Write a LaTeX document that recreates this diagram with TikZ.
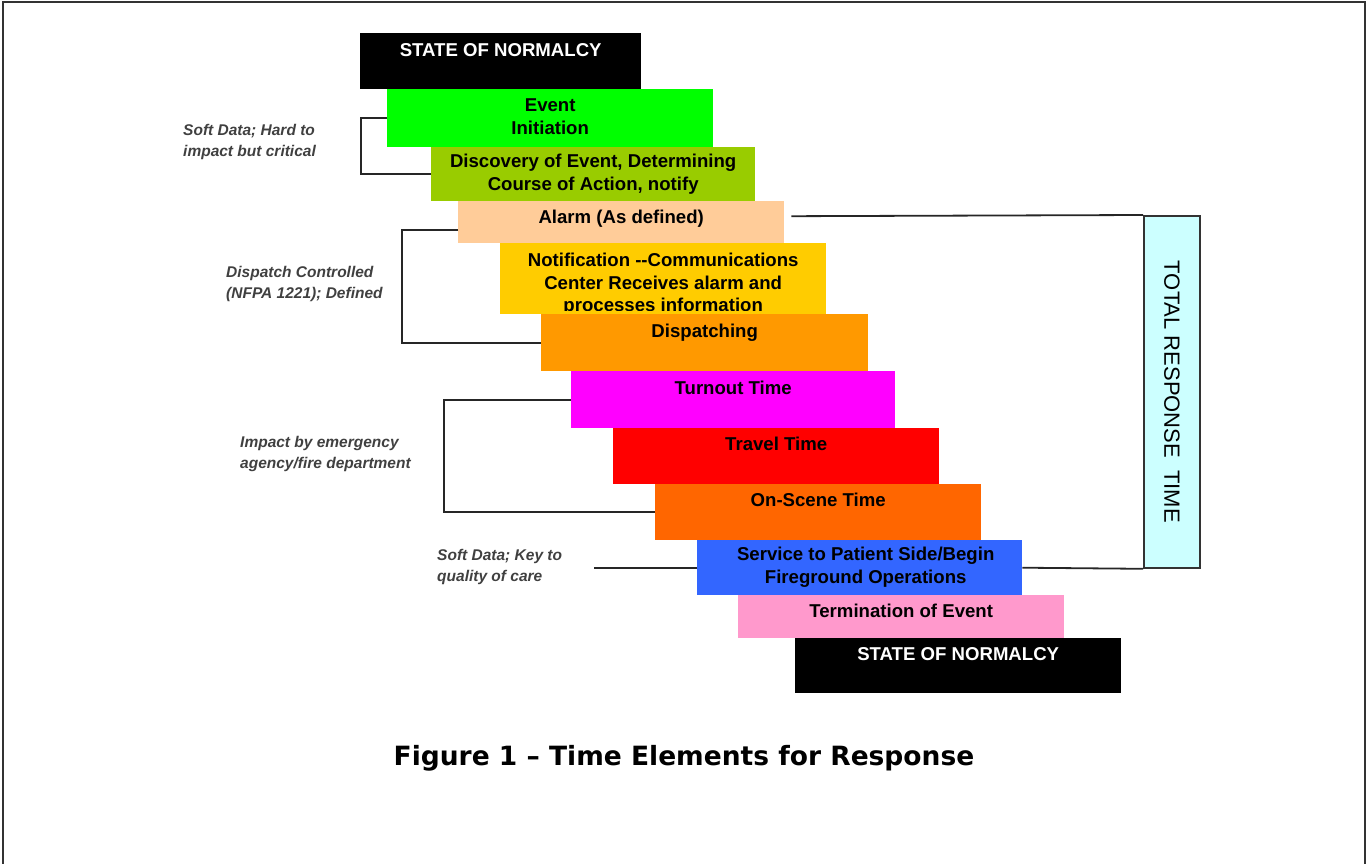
\documentclass[tikz,border=0pt]{standalone}
\usepackage{fontspec}
\setmainfont{Liberation Sans}
\newfontfamily\capfont{DejaVu Sans}
\definecolor{cEvent}{HTML}{00FF00}
\definecolor{cDisc}{HTML}{99CC00}
\definecolor{cAlarm}{HTML}{FFCC99}
\definecolor{cNotif}{HTML}{FFCC00}
\definecolor{cDisp}{HTML}{FF9900}
\definecolor{cTurn}{HTML}{FF00FF}
\definecolor{cTravel}{HTML}{FF0000}
\definecolor{cScene}{HTML}{FF6600}
\definecolor{cServ}{HTML}{3366FF}
\definecolor{cTerm}{HTML}{FF99CC}
\definecolor{cTotal}{HTML}{CCFFFF}
\begin{document}
\begin{tikzpicture}[x=1pt,y=-1pt,
  box/.style={draw=none, inner sep=0pt, anchor=north west},
  boxtext/.style={anchor=north, inner sep=0pt, align=center, font=\bfseries\fontsize{18.6}{22.5}\selectfont},
  side/.style={anchor=north west, inner sep=0pt, align=left, text=black!75, font=\bfseries\itshape\fontsize{15.5}{21}\selectfont},
  conn/.style={line width=1.8pt, draw=black!85}]
\useasboundingbox (0,0) rectangle (1367,864);
% page frame
\draw[line width=2pt, black!80] (3,864) -- (3,2) -- (1365,2) -- (1365,864);

% boxes
\node[box, fill=black, minimum width=281pt, minimum height=56pt] (n0) at (360,33) {};
\node[boxtext, text=white] at ([yshift=-8pt]n0.north) {\strut STATE OF NORMALCY};

\node[box, fill=cEvent, minimum width=326pt, minimum height=58pt] (b1) at (387,89) {};
\node[boxtext] at ([yshift=-7pt]b1.north) {\strut Event\\Initiation};

\node[box, fill=cDisc, minimum width=324pt, minimum height=54pt] (b2) at (431,147) {};
\node[boxtext] at ([yshift=-5pt]b2.north) {\strut Discovery of Event, Determining\\Course of Action, notify};

\node[box, fill=cAlarm, minimum width=326pt, minimum height=42pt] (b3) at (458,201) {};
\node[boxtext] at ([yshift=-7pt]b3.north) {\strut Alarm (As defined)};

\node[box, fill=cNotif, minimum width=326pt, minimum height=71pt] (b4) at (500,243) {};
\begin{scope}
\clip (b4.north west) rectangle ([yshift=3.5pt]b4.south east);
\node[boxtext] at ([yshift=-8pt]b4.north) {\strut Notification -{}-Communications\\Center Receives alarm and\\processes information};
\end{scope}

\node[box, fill=cDisp, minimum width=327pt, minimum height=57pt] (b5) at (541,314) {};
\node[boxtext] at ([yshift=-8pt]b5.north) {\strut Dispatching};

\node[box, fill=cTurn, minimum width=324pt, minimum height=57pt] (b6) at (571,371) {};
\node[boxtext] at ([yshift=-8pt]b6.north) {\strut Turnout Time};

\node[box, fill=cTravel, minimum width=326pt, minimum height=56pt] (b7) at (613,428) {};
\node[boxtext] at ([yshift=-7pt]b7.north) {\strut Travel Time};

\node[box, fill=cScene, minimum width=326pt, minimum height=56pt] (b8) at (655,484) {};
\node[boxtext] at ([yshift=-7pt]b8.north) {\strut On-Scene Time};

\node[box, fill=cServ, minimum width=325pt, minimum height=55pt] (b9) at (697,540) {};
\node[boxtext] at ([xshift=6pt,yshift=-5pt]b9.north) {\strut Service to Patient Side/Begin\\Fireground Operations};

\node[box, fill=cTerm, minimum width=326pt, minimum height=43pt] (b10) at (738,595) {};
\node[boxtext] at ([yshift=-7pt]b10.north) {\strut Termination of Event};

\node[box, fill=black, minimum width=326pt, minimum height=55pt] (n1) at (795,638) {};
\node[boxtext, text=white] at ([yshift=-7pt]n1.north) {\strut STATE OF NORMALCY};

% total response time
\node[box, fill=cTotal, draw=black!80, line width=1.8pt, minimum width=56pt, minimum height=352pt] (tr) at (1143,215) {};
\node[rotate=-90, inner sep=0pt, font=\fontsize{22}{26}\selectfont] at (tr.center) {TOTAL RESPONSE~~TIME};

% brackets
\draw[conn] (b1.west) -- ++(-26,0) |- (b2.west);
\draw[conn] ([yshift=-8pt]b3.west) -- ++(-56,0) |- (b5.west);
\draw[conn] (b6.west) -- ++(-127,0) |- (b8.west);
\draw[conn] (b9.west) -- ++(-103,0);
\draw[conn] ([xshift=7pt,yshift=6pt]b3.east) -- (tr.north west);
\draw[conn] (b9.east) -- (tr.south west);

% side labels
\node[side] (s1) at (183,120.8) {\strut Soft Data; Hard to\\impact but critical};
\node[side] (s2) at (226,262.8) {\strut Dispatch Controlled\\(NFPA 1221); Defined};
\node[side] (s3) at (240,432.8) {\strut Impact by emergency\\agency/fire department};
\node[side] (s4) at (437,545.8) {\strut Soft Data; Key to\\quality of care};

% caption
\node[inner sep=0pt, font=\capfont\bfseries\fontsize{26.5}{30}\selectfont] (cap) at (684,758) {Figure 1 – Time Elements for Response};
\end{tikzpicture}
\end{document}
